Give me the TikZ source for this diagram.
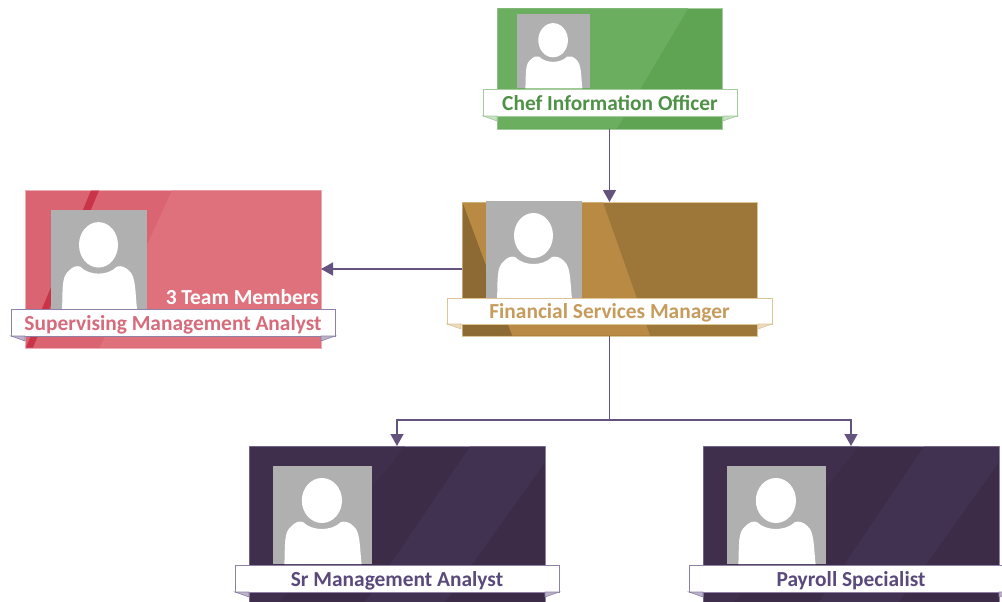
\documentclass[tikz,border=0pt]{standalone}
\usepackage{fontspec}
\setmainfont{Carlito}
\usetikzlibrary{arrows.meta}
\definecolor{linkcol}{HTML}{64537F}
\definecolor{cfogreen}{HTML}{5FA453}
\definecolor{cfogreenlt}{HTML}{6BAE60}
\definecolor{cfoedge}{HTML}{A3CB9C}
\definecolor{cfotext}{HTML}{4F9146}
\definecolor{redcard}{HTML}{DA6472}
\definecolor{redcardlt}{HTML}{DF717D}
\definecolor{redstripe}{HTML}{C93448}
\definecolor{rededge}{HTML}{EDAEB6}
\definecolor{redtext}{HTML}{D66B7B}
\definecolor{browncard}{HTML}{9C7739}
\definecolor{browncardlt}{HTML}{B98A44}
\definecolor{browncarddk}{HTML}{8D6A33}
\definecolor{brownedge}{HTML}{DDC596}
\definecolor{browntext}{HTML}{C69B5B}
\definecolor{plumcard}{HTML}{3C2C48}
\definecolor{plumcardlt}{HTML}{423251}
\definecolor{plumcardmd}{HTML}{3F2F4D}
\definecolor{plumedge}{HTML}{8F80A6}
\definecolor{plumtext}{HTML}{5A4A7C}
\tikzset{
  link/.style={draw=linkcol,line width=1.4pt,-{Triangle[width=13pt,length=12pt]}},
  card/.style={rectangle,anchor=north west,inner sep=0pt,outer sep=0pt},
  ribbon/.style={rectangle,fill=white,inner sep=0pt,outer sep=0pt,line width=1pt,
    text height=18pt,text depth=3pt,
    font=\fontsize{21.4}{24}\selectfont\bfseries},
  tail/.style={fill=#1!60!white,draw=#1,line width=.6pt},
  person/.pic={
    \fill[black!31] (0,0) rectangle (96,98);
    \fill[white] (47.5,34.5) ellipse (19.5 and 22.5);
    \fill[white] (11,98) .. controls (12,80) and (10,66) .. (18,60)
      .. controls (22,56) and (25,55) .. (29,56)
      .. controls (34,61) and (41,63) .. (47.5,63)
      .. controls (54,63) and (61,61) .. (66,56)
      .. controls (70,55) and (74,56) .. (78,60)
      .. controls (85,66) and (84,80) .. (86,98) -- cycle;
  }
}
\begin{document}
\begin{tikzpicture}[x=1pt,y=-1pt]
    \useasboundingbox (0,0) rectangle (1002,602);
    \clip (0,0) rectangle (1002,602);
    % cards
    \node[card,fill=cfogreen,draw=cfoedge,minimum width=225pt,minimum height=121pt] (cio) at (497,8) {};
    \node[card,fill=redcard,draw=rededge,minimum width=296pt,minimum height=158pt] (sup) at (25,190) {};
    \node[card,fill=browncard,draw=brownedge,minimum width=295pt,minimum height=134pt] (fsm) at (462,202) {};
    \node[card,fill=plumcard,draw=plumedge,minimum width=296pt,minimum height=170pt] (sma) at (249,446) {};
    \node[card,fill=plumcard,draw=plumedge,minimum width=296pt,minimum height=170pt] (pay) at (703,446) {};
    % sheen
    \fill[cfogreenlt] (497.5,8.5) -- (688,8.5) -- (617,128.5) -- (497.5,128.5) -- cycle;
    \fill[redcardlt] (172,190.5) -- (320.5,190.5) -- (320.5,347.5) -- (100,347.5) -- cycle;
    \fill[redstripe] (91,190.5) -- (99,190.5) -- (33,347.5) -- (26,347.5) -- cycle;
    \fill[browncardlt] (462.5,202.5) -- (603,202.5) -- (650,335.5) -- (512,335.5) -- cycle;
    \fill[browncarddk] (462.5,202.5) -- (512,335.5) -- (462.5,335.5) -- cycle;
    \foreach \dx in {0,454} {
      \fill[plumcardmd] (249.5+\dx,446.5) -- (405+\dx,446.5) -- (249.5+\dx,640) -- cycle;
      \fill[plumcardlt] (470+\dx,446.5) -- (544.5+\dx,446.5) -- (544.5+\dx,463) -- (445+\dx,602) -- (365+\dx,602) -- cycle;
    }
    % photos
    \pic[scale=.76] at (517,14) {person};
    \pic[yscale=1.01] at (51,210) {person};
    \pic at (486,201) {person};
    \pic[xscale=1.03] at (273,466) {person};
    \pic[xscale=1.03] at (727,466) {person};
    % ribbons
    \node[ribbon,draw=cfoedge,text=cfotext,minimum width=254pt,minimum height=26pt] (ciolabel) at (610,103) {Chef Information Officer};
    \node[ribbon,draw=plumedge,text=redtext,minimum width=324pt,minimum height=27pt] (suplabel) at (173,322.5) {Supervising Management Analyst};
    \node[ribbon,draw=brownedge,text=browntext,minimum width=325pt,minimum height=26pt] (fsmlabel) at (609.5,311) {Financial Services Manager};
    \node[ribbon,draw=plumedge,text=plumtext,minimum width=324pt,minimum height=27pt] (smalabel) at (397,578.5) {Sr Management Analyst};
    \node[ribbon,draw=plumedge,text=plumtext,minimum width=324pt,minimum height=27pt] (paylabel) at (851,578.5) {Payroll Specialist};
    \node[anchor=east,inner sep=0pt,text=white,font=\fontsize{21.4}{24}\selectfont\bfseries] (supcount) at (319,297) {3 Team Members};
    % ribbon tails
    \foreach \rib/\col in {ciolabel/cfoedge,suplabel/plumedge,fsmlabel/brownedge,smalabel/plumedge,paylabel/plumedge} {
      \filldraw[tail=\col] (\rib.south west) -- ++(14,5) -- ++(0,-5) -- cycle;
      \filldraw[tail=\col] (\rib.south east) -- ++(-14,5) -- ++(0,-5) -- cycle;
    }
    % connectors
    \coordinate (split) at (609.5,420);
    \draw[link] (cio.south) -- (fsm.north);
    \draw[link] (fsm.west) -- (sup.east);
    \draw[draw=linkcol,line width=1.4pt] (fsm.south) -- (split);
    \draw[link] (split) -| (sma.north);
    \draw[link] (split) -| (pay.north);
\end{tikzpicture}
\end{document}
